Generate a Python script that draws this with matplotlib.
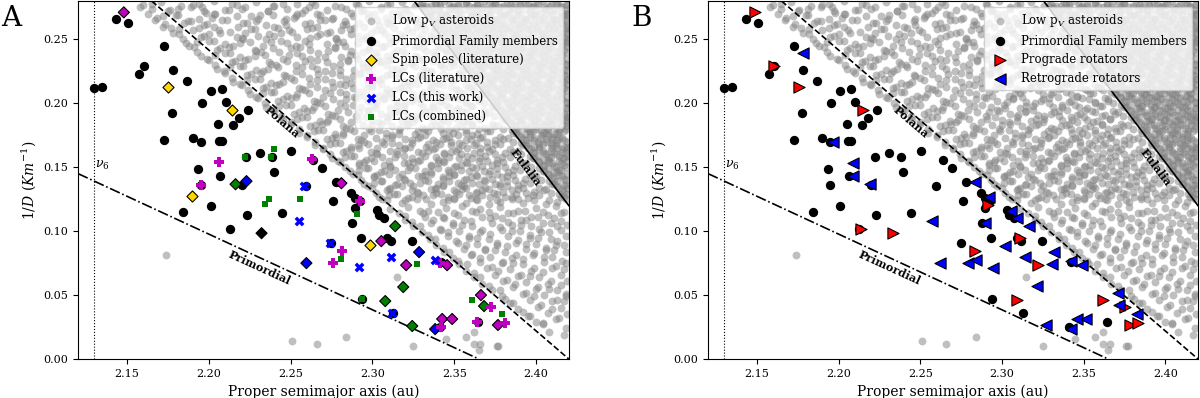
import numpy as np
import matplotlib
matplotlib.use("Agg")
import matplotlib.pyplot as plt

plt.rcParams['font.family'] = 'DejaVu Serif'
plt.rcParams['mathtext.fontset'] = 'dejavuserif'

# Boundary lines (proper a in au, 1/D in 1/km)
polana_a = [2.165, 2.42]
polana_d = [0.28, 0.0]
eulalia_a = [2.3255, 2.42]
eulalia_d = [0.28, 0.12]
primordial_a = [2.12, 2.365]
primordial_d = [0.145, 0.0]
nu6_a = 2.13

# Low albedo background asteroids, (a, 1/D) in milli-units
low_pv_top = [
    (2160,277),(2171,279),(2183,276),(2194,278),(2203,280),(2217,277),(2229,279),(2240,276),(2254,278),(2263,279),(2277,276),(2290,278),(2298,280),(2309,277),(2318,279),(2326,276),
    (2330,278),(2333,276),(2338,279),(2341,277),(2344,280),(2349,276),(2352,278),(2357,279),(2359,276),(2364,278),(2368,280),(2371,277),(2375,279),(2380,276),(2382,278),(2387,280),(2390,277),(2393,279),(2398,276),(2401,278),(2404,280),(2409,277),(2412,279),(2415,276),(2419,278),
    (2165,274),(2175,272),(2189,275),(2198,271),(2212,273),(2222,275),(2236,272),(2248,274),(2257,271),(2272,273),(2281,275),(2293,272),(2305,274),(2312,271),(2321,273),
    (2331,275),(2335,272),(2337,274),(2342,271),(2346,273),(2348,275),(2353,272),(2356,274),(2361,271),(2363,273),(2367,275),(2372,272),(2374,274),(2378,271),(2383,273),(2386,275),(2389,272),(2394,274),(2396,271),(2400,273),(2405,275),(2408,272),(2411,274),(2416,271),(2418,273),
    (2168,267),(2181,269),(2194,266),(2204,270),(2217,268),(2230,266),(2239,269),(2252,267),(2266,270),(2275,266),(2288,268),(2297,270),(2308,267),(2316,269),(2327,266),
    (2334,268),(2338,270),(2341,266),(2345,269),(2349,267),(2352,270),(2356,266),(2360,268),(2363,270),(2368,267),(2371,269),(2374,266),(2379,268),(2382,270),(2386,267),(2389,269),(2393,266),(2397,268),(2400,270),(2404,267),(2408,269),(2411,266),(2415,268),(2419,270),
    (2173,262),(2187,264),(2197,261),(2211,265),(2221,263),(2235,261),(2246,264),(2259,262),(2268,265),(2282,261),(2292,263),(2303,265),(2310,262),(2321,264),(2330,261),
    (2337,263),(2340,265),(2344,262),(2347,264),(2351,261),(2355,263),(2358,265),(2362,262),(2366,264),(2369,261),(2373,263),(2376,265),(2380,262),(2384,264),(2387,261),(2391,263),(2394,265),(2398,262),(2402,264),(2405,261),(2409,263),(2412,265),(2416,262),(2419,264),
    (2177,259),(2190,257),(2203,260),(2213,256),(2226,258),(2240,260),(2249,257),(2263,259),(2274,256),(2286,258),(2295,260),(2306,257),(2313,259),(2324,256),(2332,258),
    (2339,260),(2343,257),(2346,259),(2350,256),(2353,258),(2357,260),(2361,257),(2364,259),(2368,256),(2371,258),(2375,260),(2379,257),(2382,259),(2386,256),(2389,258),(2393,260),(2397,257),(2400,259),(2404,256),(2407,258),(2411,260),(2414,257),(2418,259),
    (2182,254),(2195,252),(2207,255),(2220,251),(2230,253),(2244,255),(2254,252),(2268,254),(2278,251),(2291,253),(2299,255),(2310,252),(2317,254),(2328,251),(2335,253),
    (2342,255),(2345,252),(2349,254),(2352,251),(2356,253),(2359,255),(2363,252),(2367,254),(2370,251),(2374,253),(2377,255),(2381,252),(2385,254),(2388,251),(2392,253),(2395,255),(2399,252),(2403,254),(2406,251),(2410,253),(2413,255),(2417,252),(2419,254),
    (2186,247),(2200,249),(2210,246),(2225,248),(2235,250),(2248,247),(2259,249),(2272,246),(2282,248),(2295,250),(2302,247),(2313,249),(2320,246),(2331,248),(2338,250),
    (2345,247),(2348,249),(2352,246),(2355,248),(2359,250),(2362,247),(2366,249),(2370,246),(2373,248),(2377,250),(2380,247),(2384,249),(2387,246),(2391,248),(2395,250),(2398,247),(2402,249),(2405,246),(2409,248),(2412,250),(2416,247),(2419,249),
    (2191,244),(2205,242),(2215,245),(2229,241),(2239,243),(2253,245),(2262,242),(2277,244),(2287,241),(2298,243),(2307,245),(2315,242),(2326,244),(2333,241),(2341,243),
    (2348,245),(2351,242),(2355,244),(2358,241),(2362,243),(2366,245),(2369,242),(2373,244),(2376,241),(2380,243),(2383,245),(2387,242),(2391,244),(2394,241),(2398,243),(2401,245),(2405,242),(2408,244),(2412,241),(2415,243),(2419,245),
    (2195,237),(2210,239),(2219,236),(2234,238),(2243,240),(2257,237),(2267,239),(2281,236),(2290,238),(2302,240),(2309,237),(2320,239),(2327,236),(2338,238),(2345,240),
    (2351,237),(2354,239),(2358,236),(2361,238),(2365,240),(2369,237),(2372,239),(2376,236),(2379,238),(2383,240),(2386,237),(2390,239),(2394,236),(2397,238),(2401,240),(2404,237),(2408,239),(2411,236),(2415,238),(2418,240),
    (2200,234),(2214,232),(2224,235),(2238,231),(2248,233),(2262,235),(2272,232),(2285,234),(2294,231),(2305,233),(2312,235),(2323,232),(2330,234),(2341,231),(2348,233),
    (2354,235),(2357,232),(2361,234),(2364,231),(2368,233),(2372,235),(2375,232),(2379,234),(2382,231),(2386,233),(2389,235),(2393,232),(2397,234),(2400,231),(2404,233),(2407,235),(2411,232),(2414,234),(2418,231),
    (2205,227),(2219,229),(2229,226),(2242,228),(2253,230),(2266,227),(2276,229),(2289,226),(2297,228),(2308,230),(2315,227),(2326,229),(2333,226),(2343,228),(2350,230),
    (2357,227),(2360,229),(2364,226),(2367,228),(2371,230),(2375,227),(2378,229),(2382,226),(2385,228),(2389,230),(2392,227),(2396,229),(2400,226),(2403,228),(2407,230),(2410,227),(2414,229),(2417,226),
    (2210,224),(2223,222),(2233,225),(2247,221),(2257,223),(2271,225),(2280,222),(2293,224),(2300,221),(2311,223),(2318,225),(2329,222),(2336,224),(2346,221),(2353,223),
    (2360,225),(2363,222),(2367,224),(2370,221),(2374,223),(2378,225),(2381,222),(2385,224),(2388,221),(2392,223),(2395,225),(2399,222),(2403,224),(2406,221),(2410,223),(2413,225),(2417,222),
    (2215,217),(2228,219),(2238,216),(2252,218),(2261,220),(2275,217),(2284,219),(2297,216),(2304,218),(2315,220),(2322,217),(2333,219),(2339,216),(2348,218),(2356,220),
    (2363,217),(2366,219),(2370,216),(2373,218),(2377,220),(2381,217),(2384,219),(2388,216),(2391,218),(2395,220),(2398,217),(2402,219),(2406,216),(2409,218),(2413,220),(2416,217),(2419,219),
    (2220,214),(2233,212),(2243,215),(2257,211),(2266,213),(2280,215),(2288,212),(2300,214),(2309,211),(2318,213),(2327,215),(2336,212),(2343,214),(2351,211),(2359,213),
    (2366,215),(2369,212),(2373,214),(2376,211),(2380,213),(2384,215),(2387,212),(2391,214),(2394,211),(2398,213),(2401,215),(2405,212),(2409,214),(2412,211),(2416,213),(2419,215),
    (2225,207),(2238,209),(2248,206),(2261,208),(2271,210),(2284,207),(2292,209),(2304,206),(2311,208),(2322,210),(2330,207),(2339,209),(2346,206),(2354,208),(2362,210),
    (2369,207),(2372,209),(2376,206),(2379,208),(2383,210),(2387,207),(2390,209),(2394,206),(2397,208),(2401,210),(2404,207),(2408,209),(2412,206),(2415,208),(2419,210),
    (2230,204),(2242,202),(2253,205),(2266,201),(2276,203),(2289,205),(2297,202),(2307,204),(2315,201),(2325,203),(2334,205),(2342,202),(2349,204),(2357,201),(2365,203),
    (2372,205),(2375,202),(2379,204),(2382,201),(2386,203),(2390,205),(2393,202),(2397,204),(2400,201),(2404,203),(2407,205),(2411,202),(2415,204),(2418,201),
]
low_pv_mid = [
    (2235,197),(2247,199),(2258,196),(2271,198),(2280,200),(2293,197),(2301,199),(2311,196),(2319,198),(2329,200),(2337,197),(2345,199),(2352,196),(2360,198),(2368,200),
    (2375,197),(2378,199),(2382,196),(2385,198),(2389,200),(2393,197),(2396,199),(2400,196),(2403,198),(2407,200),(2410,197),(2414,199),(2418,196),
    (2240,194),(2252,192),(2263,195),(2275,191),(2285,193),(2297,195),(2305,192),(2315,194),(2322,191),(2332,193),(2340,195),(2348,192),(2355,194),(2363,191),(2371,193),
    (2378,195),(2381,192),(2385,194),(2388,191),(2392,193),(2396,195),(2399,192),(2403,194),(2406,191),(2410,193),(2413,195),(2417,192),
    (2245,187),(2257,189),(2268,186),(2280,188),(2290,190),(2300,187),(2309,189),(2318,186),(2326,188),(2335,190),(2343,187),(2350,189),(2358,186),(2366,188),(2374,190),
    (2381,187),(2384,189),(2388,186),(2391,188),(2395,190),(2399,187),(2402,189),(2406,186),(2409,188),(2413,190),(2416,187),(2419,189),
    (2250,184),(2262,182),(2272,185),(2284,181),(2294,183),(2304,185),(2312,182),(2322,184),(2330,181),(2339,183),(2346,185),(2354,182),(2361,184),(2369,181),(2377,183),
    (2384,185),(2387,182),(2391,184),(2394,181),(2398,183),(2402,185),(2405,182),(2409,184),(2412,181),(2416,183),(2419,185),
    (2255,177),(2267,179),(2277,176),(2289,178),(2298,180),(2308,177),(2316,179),(2326,176),(2334,178),(2342,180),(2349,177),(2357,179),(2364,176),(2372,178),(2380,180),
    (2386,177),(2389,179),(2393,176),(2396,178),(2400,180),(2404,177),(2407,179),(2411,176),(2414,178),(2418,180),
    (2260,174),(2272,172),(2282,175),(2293,171),(2302,173),(2312,175),(2320,172),(2329,174),(2337,171),(2345,173),(2352,175),(2360,172),(2367,174),(2375,171),(2383,173),
    (2389,175),(2392,172),(2396,174),(2399,171),(2403,173),(2407,175),(2410,172),(2414,174),(2417,171),
    (2265,167),(2277,169),(2287,166),(2297,168),(2306,170),(2316,167),(2324,169),(2333,166),(2341,168),(2348,170),(2355,167),(2363,169),(2370,166),(2378,168),(2386,170),
    (2392,167),(2395,169),(2399,166),(2402,168),(2406,170),(2410,167),(2413,169),(2417,166),
    (2270,164),(2282,162),(2292,165),(2302,161),(2311,163),(2320,165),(2328,162),(2337,164),(2344,161),(2351,163),(2358,165),(2366,162),(2373,164),(2381,161),(2389,163),
    (2395,165),(2398,162),(2402,164),(2405,161),(2409,163),(2413,165),(2416,162),(2419,164),
    (2275,157),(2287,159),(2296,156),(2306,158),(2315,160),(2324,157),(2332,159),(2340,156),(2347,158),(2354,160),(2361,157),(2369,159),(2376,156),(2384,158),(2391,160),
    (2398,157),(2401,159),(2405,156),(2408,158),(2412,160),(2416,157),(2419,159),
    (2280,154),(2292,152),(2301,155),(2311,151),(2319,153),(2328,155),(2336,152),(2344,154),(2351,151),(2358,153),(2365,155),(2373,152),(2380,154),(2387,151),(2394,153),
    (2401,155),(2404,152),(2408,154),(2411,151),(2415,153),(2419,155),
    (2286,147),(2296,149),(2305,146),(2314,148),(2323,150),(2332,147),(2340,149),(2347,146),(2354,148),(2361,150),(2368,147),(2376,149),(2383,146),(2390,148),(2397,150),
    (2404,147),(2407,149),(2411,146),(2414,148),(2418,150),
    (2291,144),(2301,142),(2310,145),(2319,141),(2328,143),(2336,145),(2343,142),(2350,144),(2357,141),(2364,143),(2371,145),(2379,142),(2386,144),(2393,141),(2400,143),
    (2407,145),(2410,142),(2414,144),(2417,141),
    (2295,137),(2305,139),(2314,136),(2323,138),(2332,140),(2340,137),(2347,139),(2354,136),(2361,138),(2368,140),(2375,137),(2382,139),(2389,136),(2396,138),(2403,140),
    (2410,137),(2413,139),(2417,136),
    (2300,134),(2309,132),(2318,135),(2327,131),(2336,133),(2343,135),(2350,132),(2357,134),(2364,131),(2371,133),(2378,135),(2385,132),(2392,134),(2399,131),(2406,133),
    (2413,135),(2416,132),(2419,134),
    (2304,127),(2313,129),(2322,126),(2331,128),(2339,130),(2346,127),(2353,129),(2360,126),(2367,128),(2374,130),(2381,127),(2388,129),(2395,126),(2402,128),(2409,130),
    (2415,127),(2418,129),
    (2309,124),(2318,122),(2327,125),(2336,121),(2343,123),(2350,125),(2357,122),(2364,124),(2371,121),(2378,123),(2385,125),(2392,122),(2399,124),(2406,121),(2413,123),(2418,125),
]
low_pv_fill = [
    (2158,275),(2165,278),(2181,274),(2190,277),(2196,275),(2214,278),(2220,274),(2239,276),(2245,278),(2261,275),(2265,277),(2284,274),(2291,277),(2305,275),(2311,278),(2320,274),
    (2329,277),(2331,274),(2336,276),(2339,278),(2341,275),(2347,277),(2350,274),(2352,276),(2357,278),(2362,275),(2364,277),(2367,274),(2373,276),(2375,278),(2378,275),(2384,277),(2386,274),(2390,276),(2395,278),(2397,275),(2400,277),(2406,274),(2408,276),(2413,278),(2415,275),(2419,277),
    (2163,270),(2176,273),(2180,269),(2197,272),(2203,270),(2210,273),(2231,269),(2236,272),(2254,270),(2259,273),(2268,269),(2287,271),(2294,273),(2301,270),(2316,272),(2323,269),
    (2332,272),(2335,270),(2340,273),(2342,269),(2347,271),(2351,273),(2354,270),(2359,272),(2361,269),(2366,271),(2370,273),(2372,270),(2377,272),(2380,269),(2384,271),(2389,273),(2391,270),(2396,272),(2399,269),(2403,271),(2405,273),(2410,270),(2412,272),(2417,269),(2419,271),
    (2167,265),(2172,268),(2189,264),(2202,267),(2208,265),(2226,268),(2229,264),(2247,266),(2253,268),(2271,265),(2276,267),(2283,264),(2297,267),(2312,265),(2318,268),(2326,264),
    (2335,267),(2337,264),(2342,266),(2345,268),(2348,265),(2353,267),(2357,264),(2359,266),(2364,268),(2366,265),(2370,267),(2374,264),(2376,266),(2381,268),(2385,265),(2388,267),(2392,264),(2394,266),(2399,268),(2402,265),(2405,267),(2409,264),(2412,266),(2416,268),(2418,265),
    (2172,260),(2185,263),(2194,259),(2199,262),(2218,260),(2223,263),(2242,259),(2247,261),(2262,263),(2266,260),(2284,262),(2289,259),(2304,261),(2309,263),(2327,260),(2331,262),
    (2338,259),(2341,261),(2343,263),(2349,260),(2352,262),(2354,259),(2360,261),(2362,263),(2367,260),(2370,262),(2373,259),(2378,261),(2380,263),(2384,260),(2389,262),(2391,259),(2395,261),(2398,263),(2401,260),(2406,262),(2408,259),(2413,261),(2415,263),(2419,260),
    (2178,255),(2182,258),(2200,254),(2206,257),(2222,255),(2228,258),(2237,254),(2251,256),(2260,258),(2272,255),(2281,257),(2287,254),(2302,257),(2307,255),(2321,258),(2330,254),(2337,256),
    (2341,258),(2345,255),(2347,257),(2352,254),(2356,256),(2358,258),(2363,255),(2365,257),(2370,254),(2373,256),(2377,258),(2380,255),(2383,257),(2388,254),(2390,256),(2395,258),(2398,255),(2401,257),(2404,254),(2409,256),(2411,258),(2416,255),(2419,257),
    (2184,250),(2197,253),(2203,249),(2217,252),(2221,250),(2240,253),(2244,249),(2262,251),(2266,253),(2278,250),(2296,252),(2300,249),(2315,251),(2319,253),(2336,250),(2340,252),
    (2344,249),(2349,251),(2351,253),(2356,250),(2360,252),(2362,249),(2367,251),(2371,253),(2373,250),(2378,252),(2381,249),(2386,251),(2388,253),(2392,250),(2397,252),(2399,249),(2403,251),(2406,253),(2409,250),(2414,252),(2416,249),(2419,251),
    (2188,245),(2193,248),(2212,244),(2219,247),(2233,245),(2238,248),(2256,244),(2261,246),(2279,248),(2283,245),(2291,247),(2306,244),(2311,247),(2328,245),(2333,248),(2340,244),
    (2346,247),(2350,244),(2353,246),(2358,248),(2360,245),(2365,247),(2368,244),(2372,246),(2376,248),(2379,245),(2383,247),(2386,244),(2390,246),(2394,248),(2397,245),(2401,247),(2404,244),(2408,246),(2411,248),(2415,245),(2418,247),
    (2193,240),(2207,243),(2213,239),(2228,242),(2232,240),(2250,243),(2254,239),(2273,241),(2277,243),(2294,240),(2298,242),(2313,239),(2318,241),(2331,243),(2337,240),(2345,242),
    (2349,239),(2352,241),(2357,243),(2359,240),(2364,242),(2367,239),(2371,241),(2374,243),(2378,240),(2382,242),(2385,239),(2389,241),(2392,243),(2396,240),(2399,242),(2403,239),(2407,241),(2410,243),(2414,240),(2417,242),
    (2199,235),(2204,238),(2222,234),(2228,237),(2245,235),(2249,238),(2266,234),(2271,236),(2286,238),(2291,235),(2303,237),(2310,234),(2326,237),(2330,235),(2339,238),(2347,234),
    (2352,237),(2355,234),(2360,236),(2362,238),(2367,235),(2370,237),(2374,234),(2377,236),(2381,238),(2384,235),(2388,237),(2391,234),(2395,236),(2398,238),(2402,235),(2406,237),(2409,234),(2413,236),(2416,238),(2419,235),
    (2204,230),(2216,233),(2221,229),(2237,232),(2241,230),(2259,233),(2263,229),(2280,231),(2285,233),(2299,230),(2304,232),(2319,229),(2324,231),(2337,233),(2342,230),(2350,232),
    (2355,229),(2358,231),(2363,233),(2365,230),(2370,232),(2373,229),(2377,231),(2380,233),(2384,230),(2388,232),(2391,229),(2395,231),(2398,233),(2402,230),(2405,232),(2409,229),(2412,231),(2416,233),(2419,230),
    (2209,225),(2213,228),(2232,224),(2236,227),(2253,225),(2257,228),(2275,224),(2280,226),(2294,228),(2298,225),(2312,227),(2316,224),(2331,227),(2336,225),(2347,228),(2353,224),
    (2358,227),(2361,224),(2366,226),(2368,228),(2373,225),(2376,227),(2380,224),(2383,226),(2387,228),(2390,225),(2394,227),(2397,224),(2401,226),(2404,228),(2408,225),(2411,227),(2415,224),(2418,226),
    (2214,220),(2226,223),(2231,219),(2246,222),(2250,220),(2267,223),(2271,219),(2288,221),(2292,223),(2306,220),(2309,222),(2325,219),(2329,221),(2343,223),(2347,220),(2355,222),
    (2361,219),(2364,221),(2369,223),(2371,220),(2376,222),(2379,219),(2383,221),(2386,223),(2390,220),(2394,222),(2397,219),(2401,221),(2404,223),(2408,220),(2411,222),(2415,219),(2418,221),
    (2219,215),(2223,218),(2241,214),(2245,217),(2262,215),(2266,218),(2283,214),(2287,216),(2301,218),(2305,215),(2319,217),(2323,214),(2336,217),(2340,215),(2350,218),(2357,214),
    (2364,217),(2367,214),(2372,216),(2374,218),(2379,215),(2382,217),(2386,214),(2389,216),(2393,218),(2396,215),(2400,217),(2403,214),(2407,216),(2410,218),(2414,215),(2417,217),
    (2224,210),(2235,213),(2240,209),(2255,212),(2259,210),(2276,213),(2280,209),(2296,211),(2300,213),(2313,210),(2317,212),(2331,209),(2335,211),(2348,213),(2352,210),(2360,212),
    (2367,209),(2370,211),(2375,213),(2377,210),(2382,212),(2385,209),(2389,211),(2392,213),(2396,210),(2400,212),(2403,209),(2407,211),(2410,213),(2414,210),(2417,212),
    (2229,205),(2233,208),(2250,204),(2254,207),(2270,205),(2274,208),(2290,204),(2294,206),(2308,208),(2312,205),(2325,207),(2329,204),(2342,207),(2346,205),(2356,208),(2363,204),
    (2370,207),(2373,204),(2378,206),(2380,208),(2385,205),(2388,207),(2392,204),(2395,206),(2399,208),(2402,205),(2406,207),(2409,204),(2413,206),(2416,208),(2419,205),
    (2234,200),(2245,203),(2250,199),(2264,202),(2268,200),(2284,203),(2288,199),(2303,201),(2307,203),(2320,200),(2324,202),(2337,199),(2341,201),(2353,203),(2357,200),(2365,202),
    (2373,199),(2376,201),(2381,203),(2383,200),(2388,202),(2391,199),(2395,201),(2398,203),(2402,200),(2406,202),(2409,199),(2413,201),(2416,203),(2419,200),
    (2239,195),(2243,198),(2260,194),(2264,197),(2279,195),(2283,198),(2298,194),(2302,196),(2315,198),(2319,195),(2331,197),(2335,194),(2347,197),(2351,195),(2361,198),(2368,194),
    (2376,197),(2379,194),(2384,196),(2386,198),(2391,195),(2394,197),(2398,194),(2401,196),(2405,198),(2408,195),(2412,197),(2415,194),(2419,196),
    (2244,190),(2255,193),(2260,189),(2273,192),(2277,190),(2292,193),(2296,189),(2310,191),(2314,193),(2326,190),(2330,192),(2342,189),(2346,191),(2357,193),(2361,190),(2369,192),
    (2379,189),(2382,191),(2387,193),(2389,190),(2394,192),(2397,189),(2401,191),(2404,193),(2408,190),(2412,192),(2415,189),(2419,191),
    (2250,185),(2254,188),(2269,184),(2273,187),(2287,185),(2291,188),(2305,184),(2309,186),(2321,188),(2325,185),(2337,187),(2341,184),(2352,187),(2356,185),(2366,188),(2373,184),
    (2382,187),(2385,184),(2390,186),(2392,188),(2397,185),(2400,187),(2404,184),(2407,186),(2411,188),(2414,185),(2418,187),
    (2255,180),(2265,183),(2270,179),(2282,182),(2286,180),(2300,183),(2304,179),(2317,181),(2321,183),(2332,180),(2336,182),(2347,179),(2351,181),(2361,183),(2365,180),(2374,182),
    (2385,179),(2388,181),(2393,183),(2395,180),(2400,182),(2403,179),(2407,181),(2410,183),(2414,180),(2418,182),
    (2260,175),(2264,178),(2278,174),(2282,177),(2295,175),(2299,178),(2312,174),(2316,176),(2328,178),(2332,175),(2343,177),(2347,174),(2357,177),(2361,175),(2370,178),(2378,174),
    (2388,177),(2391,174),(2396,176),(2398,178),(2403,175),(2406,177),(2410,174),(2413,176),(2417,178),
    (2265,170),(2275,173),(2280,169),(2291,172),(2295,170),(2308,173),(2312,169),(2324,171),(2328,173),(2339,170),(2343,172),(2353,169),(2357,171),(2366,173),(2370,170),(2380,172),
    (2391,169),(2394,171),(2399,173),(2401,170),(2406,172),(2409,169),(2413,171),(2416,173),(2419,170),
    (2270,165),(2274,168),(2287,164),(2291,167),(2303,165),(2307,168),(2319,164),(2323,166),(2334,168),(2338,165),(2348,167),(2352,164),(2362,167),(2366,165),(2375,168),(2384,164),
    (2394,167),(2397,164),(2402,166),(2404,168),(2409,165),(2412,167),(2416,164),(2419,166),
    (2274,160),(2284,163),(2289,159),(2299,162),(2303,160),(2315,163),(2319,159),(2330,161),(2334,163),(2344,160),(2348,162),(2358,159),(2362,161),(2371,163),(2375,160),(2386,162),
    (2396,159),(2399,161),(2404,163),(2406,160),(2411,162),(2414,159),(2418,161),
    (2279,155),(2283,158),(2295,154),(2299,157),(2310,155),(2314,158),(2325,154),(2329,156),(2339,158),(2343,155),(2353,157),(2357,154),(2366,157),(2370,155),(2379,158),(2390,154),
    (2399,157),(2402,154),(2407,156),(2409,158),(2414,155),(2417,157),
    (2283,150),(2292,153),(2297,149),(2307,152),(2311,150),(2322,153),(2326,149),(2336,151),(2340,153),(2350,150),(2354,152),(2363,149),(2367,151),(2376,153),(2381,150),(2393,152),
    (2402,149),(2405,151),(2410,153),(2412,150),(2417,152),
    (2288,145),(2292,148),(2303,144),(2307,147),(2318,145),(2322,148),(2332,144),(2336,146),(2346,148),(2350,145),(2359,147),(2363,144),(2372,147),(2376,145),(2386,148),(2396,144),
    (2405,147),(2408,144),(2413,146),(2415,148),(2419,145),
    (2293,140),(2301,143),(2306,139),(2316,142),(2320,140),(2330,143),(2334,139),(2343,141),(2347,143),(2356,140),(2360,142),(2369,139),(2373,141),(2382,143),(2387,140),(2399,142),
    (2408,139),(2411,141),(2416,143),(2418,140),
    (2297,135),(2301,138),(2311,134),(2315,137),(2325,135),(2329,138),(2339,134),(2343,136),(2352,138),(2356,135),(2365,137),(2369,134),(2378,137),(2382,135),(2392,138),(2402,134),
    (2411,137),(2414,134),(2418,136),
    (2302,130),(2310,133),(2315,129),(2324,132),(2328,130),(2338,133),(2342,129),(2351,131),(2355,133),(2363,130),(2367,132),(2376,129),(2380,131),(2389,133),(2394,130),(2405,132),
    (2414,129),(2417,131),
    (2306,125),(2310,128),(2320,124),(2324,127),(2333,125),(2337,128),(2346,124),(2350,126),(2359,128),(2363,125),(2372,127),(2376,124),(2385,127),(2389,125),(2398,128),(2408,124),
    (2417,127),
]
low_pv_low = [
    (2311,117),(2322,119),(2334,116),(2345,118),(2355,120),(2366,117),(2378,119),(2389,116),(2400,118),(2412,120),
    (2316,114),(2329,116),(2340,115),(2350,114),(2361,116),(2371,115),(2383,114),(2393,116),(2404,115),(2415,114),
    (2320,112),(2331,114),(2343,111),(2352,113),(2363,115),(2375,112),(2386,114),(2397,111),(2407,113),(2417,115),
    (2320,109),(2332,111),(2344,110),(2356,109),(2367,111),(2379,110),(2391,109),(2401,111),(2411,110),
    (2324,107),(2337,109),(2349,106),(2360,108),(2372,110),(2383,107),(2394,109),(2404,106),(2415,108),
    (2325,104),(2336,106),(2349,105),(2361,104),(2373,106),(2385,105),(2397,104),(2409,106),(2419,105),
    (2329,104),(2341,102),(2355,105),(2367,101),(2378,103),(2391,105),(2402,102),(2413,104),
    (2330,99),(2342,101),(2353,100),(2366,99),(2379,101),(2390,100),(2403,99),(2415,101),
    (2334,97),(2346,99),(2359,96),(2372,98),(2385,100),(2396,97),(2408,99),(2418,96),
    (2335,94),(2346,96),(2359,95),(2371,94),(2383,96),(2396,95),(2409,94),
    (2338,94),(2351,92),(2364,95),(2376,91),(2389,93),(2401,95),(2413,92),
    (2339,89),(2352,91),(2364,90),(2376,89),(2388,91),(2400,90),(2412,89),
    (2343,87),(2357,89),(2369,86),(2382,88),(2394,90),(2406,87),(2417,89),
    (2344,84),(2356,86),(2369,85),(2381,84),(2394,86),(2406,85),(2418,84),
    (2347,84),(2361,82),(2375,85),(2388,81),(2399,83),(2411,85),
    (2349,79),(2360,81),(2372,80),(2385,79),(2398,81),(2410,80),
    (2352,77),(2366,79),(2380,76),(2392,78),(2405,80),(2416,77),
    (2353,74),(2366,76),(2379,75),(2392,74),(2405,76),(2418,75),
    (2358,74),(2373,72),(2386,75),(2399,71),(2412,73),
    (2357,69),(2370,71),(2384,70),(2397,69),(2410,71),
    (2362,67),(2377,69),(2391,66),(2404,68),(2417,70),
    (2362,64),(2375,66),(2389,65),(2402,64),(2415,66),
    (2366,64),(2382,62),(2396,65),(2409,61),
    (2367,59),(2380,61),(2394,60),(2407,59),(2419,61),
    (2371,57),(2387,59),(2401,56),(2415,58),
    (2373,54),(2386,56),(2400,55),(2413,54),
    (2378,54),(2394,52),(2408,55),(2418,51),
    (2379,49),(2392,51),(2405,50),(2418,49),
    (2381,47),(2399,49),(2413,46),
    (2384,44),(2396,46),(2410,45),
    (2386,44),(2403,42),(2417,45),
    (2389,39),(2401,41),(2415,40),
    (2392,37),(2410,39),
    (2395,34),(2407,36),(2419,35),
    (2396,34),(2414,32),
    (2400,29),(2412,31),
    (2404,27),(2418,24),
    (2408,21),(2417,19),
]
low_pv_stray = [
    (2174,81),(2251,14),(2266,12),(2284,17),(2315,64),(2325,10),(2345,16),(2357,17),
    (2362,21),(2362,12),(2366,12),(2365,7),(2376,10),(2377,10),(2404,28),
]

# Primordial family members
members_a = [2.1432, 2.1505, 2.1724, 2.1602, 2.1572, 2.1779, 2.1865, 2.1298, 2.1346, 2.2011,
             2.2078, 2.1956, 2.2102, 2.1773, 2.2237, 2.2182, 2.2054, 2.2145, 2.1724, 2.1901,
             2.1950, 2.2060, 2.2078, 2.2310, 2.2505, 2.1932, 2.2395, 2.2066, 2.2200, 2.2694,
             2.2779, 2.2871, 2.1840, 2.2011, 2.2127, 2.2230, 2.2444, 2.2761, 2.2895, 2.2895,
             2.2877, 2.3029, 2.3041, 2.3072, 2.2932, 2.3090, 2.3115, 2.3243, 2.2224, 2.2383,
             2.2639, 2.2596, 2.1950, 2.2926, 2.2749, 2.2938, 2.3127, 2.3413, 2.3645, 2.3420]
members_d = [0.2656, 0.2625, 0.2445, 0.2289, 0.2227, 0.2258, 0.2172, 0.2117, 0.2125, 0.2094,
             0.2109, 0.2000, 0.2008, 0.1922, 0.1945, 0.1883, 0.1836, 0.1828, 0.1711, 0.1727,
             0.1695, 0.1703, 0.1703, 0.1609, 0.1625, 0.1484, 0.1461, 0.1430, 0.1359, 0.1492,
             0.1383, 0.1297, 0.1148, 0.1195, 0.1016, 0.1125, 0.1141, 0.1234, 0.1258, 0.1180,
             0.1063, 0.1164, 0.1125, 0.1102, 0.0945, 0.0945, 0.0922, 0.0922, 0.1578, 0.1578,
             0.1555, 0.1352, 0.1359, 0.1234, 0.0906, 0.0469, 0.0359, 0.0250, 0.0289, 0.0758]

# Spin poles, with the source of the light curves used
spin_a = [2.1749, 2.2139, 2.1895, 2.2987,
          2.1480, 2.2810, 2.3054, 2.3206, 2.3456, 2.3663, 2.3426, 2.3487, 2.3767,
          2.2163, 2.3139, 2.3188, 2.3078, 2.3243, 2.3682,
          2.2230, 2.2596, 2.3285, 2.3383,
          2.2322]
spin_d = [0.2125, 0.1945, 0.1273, 0.0891,
          0.2711, 0.1375, 0.0922, 0.0734, 0.0734, 0.0500, 0.0313, 0.0313, 0.0266,
          0.1367, 0.1039, 0.0563, 0.0453, 0.0258, 0.0414,
          0.1391, 0.0750, 0.0836, 0.0234,
          0.0984]
spin_src = ['lit'] * 4 + ['lc_lit'] * 9 + ['lc_comb'] * 6 + ['lc_new'] * 4 + ['none']

lc_lit_a = [2.2060, 2.1950, 2.2633, 2.2926, 2.2816, 2.2761, 2.3413, 2.3724, 2.3639, 2.3810, 2.3420]
lc_lit_d = [0.1539, 0.1359, 0.1563, 0.1234, 0.0844, 0.0750, 0.0750, 0.0406, 0.0289, 0.0281, 0.0250]
lc_new_a = [2.2584, 2.2548, 2.2743, 2.3115, 2.2920, 2.3121, 2.3383]
lc_new_d = [0.1352, 0.1078, 0.0906, 0.0797, 0.0719, 0.0359, 0.0773]
lc_comb_a = [2.2218, 2.2377, 2.2401, 2.2365, 2.2340, 2.2560, 2.2907, 2.2810, 2.3273, 2.2938, 2.3609, 2.3791]
lc_comb_d = [0.1578, 0.1578, 0.1641, 0.1250, 0.1211, 0.1250, 0.1133, 0.0781, 0.0742, 0.0469, 0.0461, 0.0352]

# Rotation sense (panel B)
pro_a = [2.1488, 2.1605, 2.1759, 2.2147, 2.2134, 2.2331, 2.2916, 2.3113, 2.2836, 2.3218,
         2.3095, 2.3618, 2.3754, 2.3784, 2.3834]
pro_d = [0.2711, 0.2289, 0.2125, 0.1945, 0.1016, 0.0984, 0.1203, 0.0945, 0.0844, 0.0734,
         0.0461, 0.0461, 0.0406, 0.0266, 0.0281]
retro_a = [2.1783, 2.1968, 2.2085, 2.2085, 2.2190, 2.2836, 2.2922, 2.3058, 2.3095, 2.2898,
           2.3163, 2.2571, 2.3021, 2.3316, 2.2621, 2.2793, 2.2842, 2.2947, 2.3138, 2.3304,
           2.3421, 2.3489, 2.3212, 2.3711, 2.3717, 2.3828, 2.3267, 2.3458, 2.3514, 2.3421]
retro_d = [0.2391, 0.1695, 0.1531, 0.1430, 0.1367, 0.1383, 0.1266, 0.1156, 0.1102, 0.1063,
           0.1039, 0.1078, 0.0883, 0.0836, 0.0750, 0.0750, 0.0773, 0.0711, 0.0797, 0.0742,
           0.0766, 0.0734, 0.0570, 0.0516, 0.0422, 0.0352, 0.0266, 0.0313, 0.0313, 0.0234]

src_colors = {'lit': 'gold', 'lc_lit': 'm', 'lc_comb': 'g', 'lc_new': 'b', 'none': 'k'}


def split(pts):
    a = np.array([p[0] for p in pts]) / 1000.0
    d = np.array([p[1] for p in pts]) / 1000.0
    return a, d


gray_a, gray_d = split(low_pv_top + low_pv_mid + low_pv_fill + low_pv_low + low_pv_stray)


def draw_base(ax):
    ax.scatter(gray_a, gray_d, s=32, c='gray', alpha=0.5, lw=0, zorder=1,
               label='Low p$_V$ asteroids')
    ax.scatter(members_a, members_d, s=45, c='k', lw=0, zorder=2,
               label='Primordial Family members')

    ax.plot(polana_a, polana_d, 'k--', lw=1.2, zorder=3)
    ax.plot(eulalia_a, eulalia_d, 'k-', lw=1.2, zorder=3)
    ax.plot(primordial_a, primordial_d, 'k-.', lw=1.2, zorder=3)
    ax.axvline(nu6_a, color='k', ls=':', lw=0.8, zorder=3)

    ax.text(2.2444, 0.1852, 'Polana', rotation=-40.6, ha='center', va='center',
            fontsize=8, fontweight='bold', zorder=4)
    ax.text(2.3938, 0.150, 'Eulalia', rotation=-53, ha='center', va='center',
            fontsize=8, fontweight='bold', zorder=4)
    ax.text(2.2310, 0.0711, 'Primordial', rotation=-24.6, ha='center', va='center',
            fontsize=8, fontweight='bold', zorder=4)
    ax.text(nu6_a + 0.0005, 0.1465, r'$\nu_6$', fontsize=9, ha='left', va='bottom')

    ax.set_xlim(2.12, 2.42)
    ax.set_ylim(0.0, 0.28)
    ax.set_xticks([2.15, 2.20, 2.25, 2.30, 2.35, 2.40])
    ax.set_yticks([0.0, 0.05, 0.10, 0.15, 0.20, 0.25])
    ax.xaxis.set_major_formatter(plt.FormatStrFormatter('%.2f'))
    ax.yaxis.set_major_formatter(plt.FormatStrFormatter('%.2f'))
    ax.tick_params(labelsize=8)
    ax.set_xlabel('Proper semimajor axis (au)', fontsize=10)
    ax.set_ylabel(r'$1/D\ (Km^{-1})$', fontsize=10)


fig = plt.figure(figsize=(12, 3.98), dpi=100)
axA = fig.add_axes([0.065, 0.098, 0.409, 0.8995])
axB = fig.add_axes([0.59, 0.098, 0.4083, 0.8995])

# Panel A
draw_base(axA)
is_lit = [s == 'lit' for s in spin_src]
lit_a = [a for a, k in zip(spin_a, is_lit) if k]
lit_d = [d for d, k in zip(spin_d, is_lit) if k]
oth_a = [a for a, k in zip(spin_a, is_lit) if not k]
oth_d = [d for d, k in zip(spin_d, is_lit) if not k]
oth_c = [src_colors[s] for s in spin_src if s != 'lit']
axA.scatter(lit_a, lit_d, s=32, marker='D', c=src_colors['lit'], edgecolors='k',
            lw=0.8, zorder=5, label='Spin poles (literature)')
axA.scatter(oth_a, oth_d, s=32, marker='D', c=oth_c, edgecolors='k', lw=0.8, zorder=5)
axA.scatter(lc_lit_a, lc_lit_d, s=45, marker='P', c='m', lw=0, zorder=6,
            label='LCs (literature)')
axA.scatter(lc_new_a, lc_new_d, s=50, marker='X', c='b', lw=0, zorder=6,
            label='LCs (this work)')
axA.scatter(lc_comb_a, lc_comb_d, s=25, marker='s', c='g', lw=0, zorder=6,
            label='LCs (combined)')
axA.legend(loc='upper right', fontsize=8.5)

# Panel B
draw_base(axB)
axB.scatter(pro_a, pro_d, s=65, marker='>', c='r', edgecolors='k', lw=0.8, zorder=5,
            label='Prograde rotators')
axB.scatter(retro_a, retro_d, s=65, marker='<', c='b', edgecolors='k', lw=0.8, zorder=5,
            label='Retrograde rotators')
axB.legend(loc='upper right', fontsize=8.5)

fig.text(0.001, 0.935, 'A', fontsize=20)
fig.text(0.526, 0.935, 'B', fontsize=20)

fig.savefig('out.png', dpi=100)
